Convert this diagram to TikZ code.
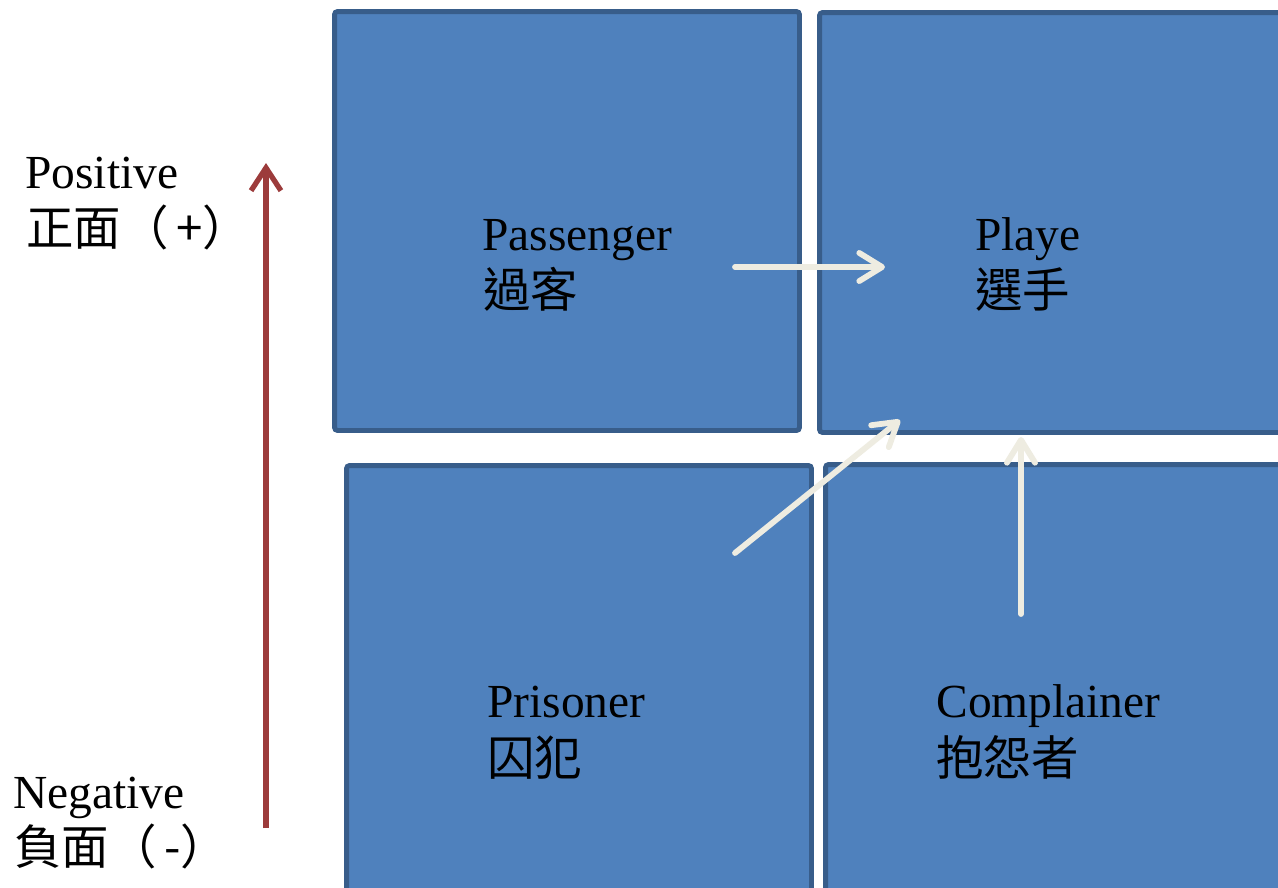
\documentclass[tikz,border=0pt]{standalone}
\usepackage{fontspec}
\setmainfont{Liberation Serif}
\newfontfamily\cjk{Noto Sans CJK TC}
\usetikzlibrary{arrows.meta}
\definecolor{boxfill}{HTML}{4F81BD}
\definecolor{boxline}{HTML}{385D8A}
\definecolor{arrowc}{HTML}{EEECE1}
\definecolor{axisred}{HTML}{9C3B3B}
\begin{document}
\begin{tikzpicture}[x=0.02cm,y=-0.02cm,
  quad/.style={rectangle,draw=boxline,fill=boxfill,line width=2.8pt,rounded corners=1.7pt,inner sep=0pt,outer sep=0pt},
  lab/.style={anchor=base west,inner sep=0pt,font=\fontsize{27}{32}\selectfont,text=black},
  flow/.style={draw=arrowc,line width=3.3pt,line cap=round,-{Straight Barb[length=13pt,width=16pt,line cap=round,line join=round]}},
  axis/.style={draw=axisred,line width=3pt,-{Straight Barb[length=13pt,width=17pt,line join=miter]}}]
\useasboundingbox (0,0) rectangle (1278,887);
\clip (0,0) rectangle (1278,887);
\fill[white] (0,0) rectangle (1278,887);
% quadrants
\node[quad,minimum width=9.30cm,minimum height=8.38cm] (passenger) at (567,221) {};
\node[quad,minimum width=9.61cm,minimum height=8.40cm] (player) at (1059.75,222.5) {};
\node[quad,minimum width=9.30cm,minimum height=8.69cm] (prisoner) at (579,682.75) {};
\node[quad,minimum width=9.49cm,minimum height=8.71cm] (complainer) at (1062.75,682.25) {};
% labels
\node[lab] (passEN) at (482,250) {Passenger};
\node[lab] (passZH) at (483,307) {\cjk 過客};
\node[lab] (playEN) at (975,250) {Playe};
\node[lab] (playZH) at (975,307) {\cjk 選手};
\node[lab] (prisEN) at (487,717) {Prisoner};
\node[lab] (prisZH) at (487,775) {\cjk 囚犯};
\node[lab] (compEN) at (936,717) {Complainer};
\node[lab] (compZH) at (936,775) {\cjk 抱怨者};
\node[lab] (posEN) at (25,188) {Positive};
\node[lab] (posZH) at (26,245) {\cjk 正面（\,+）};
\node[lab] (negEN) at (13,808) {Negative};
\node[lab] (negZH) at (14,864) {\cjk 負面（\,-）};
% arrow end points
\coordinate (a1s) at (735,267);
\coordinate (a1e) at (885,267);
\coordinate (a2s) at (735,553);
\coordinate (a2e) at (900,420);
\coordinate (a3s) at (1021,614);
\coordinate (a3e) at (1021,437);
\coordinate (axs) at (266,828);
\coordinate (axe) at (266,163);
\draw[flow] (a1s) -- (a1e);
\draw[flow] (a2s) -- (a2e);
\draw[flow] (a3s) -- (a3e);
\draw[axis] (axs) -- (axe);
\end{tikzpicture}
\end{document}
